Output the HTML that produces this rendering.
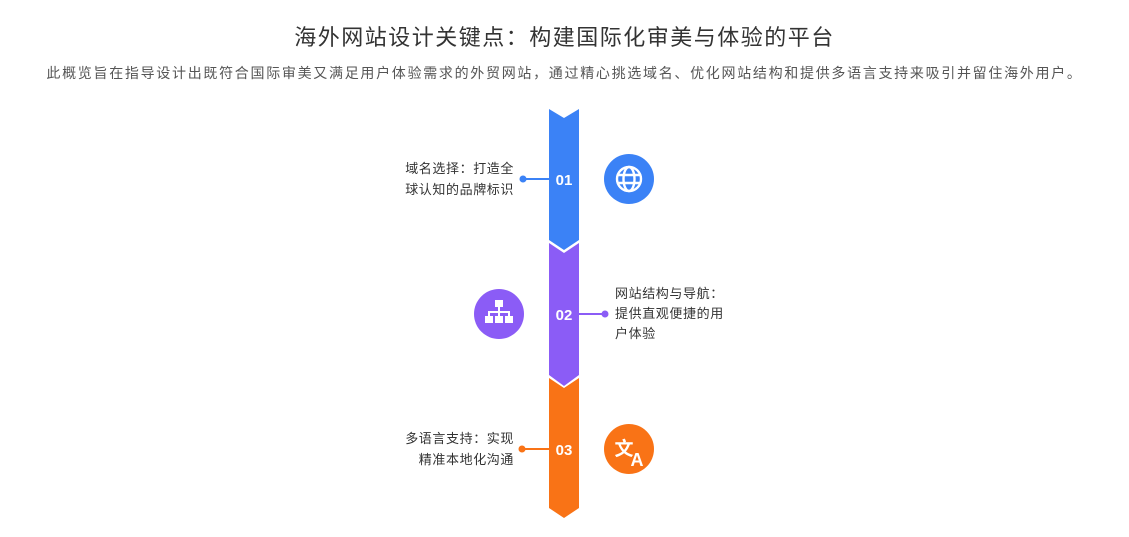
<!DOCTYPE html>
<html><head><meta charset="utf-8"><style>
body{margin:0;width:1129px;height:537px;background:#fff;position:relative;overflow:hidden;font-family:"Liberation Sans","Noto Sans CJK SC",sans-serif;color:#333}
.t{position:absolute;left:0;width:1129px;text-align:center;white-space:nowrap}
.l{position:absolute;font-size:13px;line-height:21px;letter-spacing:0.6px;color:#333}
</style></head><body>
<div class="t" style="top:20px;font-size:22px;letter-spacing:1.5px;color:#333">海外网站设计关键点：构建国际化审美与体验的平台</div>
<div class="t" style="top:63px;font-size:14px;letter-spacing:1.7px;color:#555">此概览旨在指导设计出既符合国际审美又满足用户体验需求的外贸网站，通过精心挑选域名、优化网站结构和提供多语言支持来吸引并留住海外用户。</div>
<svg width="1129" height="537" style="position:absolute;left:0;top:0">
<polygon points="549,109 564,118 579,109 579,240 564,250 549,240" fill="#3b82f6"/>
<polygon points="549,243 564,253 579,243 579,375 564,386 549,375" fill="#8b5cf6"/>
<polygon points="549,378 564,388 579,378 579,508 564,518 549,508" fill="#f97316"/>
<g font-family="Liberation Sans" font-weight="bold" font-size="15" fill="#fff" text-anchor="middle">
<text x="564" y="185">01</text><text x="564" y="320">02</text><text x="564" y="455">03</text></g>
<line x1="523" y1="179" x2="549" y2="179" stroke="#3b82f6" stroke-width="2"/><circle cx="523" cy="179" r="3.5" fill="#3b82f6"/>
<line x1="579" y1="314" x2="605" y2="314" stroke="#8b5cf6" stroke-width="2"/><circle cx="605" cy="314" r="3.5" fill="#8b5cf6"/>
<line x1="522" y1="449" x2="549" y2="449" stroke="#f97316" stroke-width="2"/><circle cx="522" cy="449" r="3.5" fill="#f97316"/>
<circle cx="629" cy="179" r="25" fill="#3b82f6"/>
<g fill="none" stroke="#fff" stroke-width="2.4"><circle cx="629" cy="179" r="12"/><ellipse cx="629" cy="179" rx="5.5" ry="12"/><line x1="617" y1="175" x2="641" y2="175"/><line x1="617" y1="183" x2="641" y2="183"/></g>
<circle cx="499" cy="314" r="25" fill="#8b5cf6"/>
<g fill="#fff"><rect x="495" y="300" width="8" height="7"/><rect x="498" y="307" width="2" height="5"/><rect x="488" y="311" width="22" height="2"/><rect x="488" y="311" width="2" height="5"/><rect x="508" y="311" width="2" height="5"/><rect x="498" y="311" width="2" height="5"/><rect x="485" y="316" width="8" height="7"/><rect x="495" y="316" width="8" height="7"/><rect x="505" y="316" width="8" height="7"/></g>
<circle cx="629" cy="449" r="25" fill="#f97316"/>
<text x="624" y="455" font-family="Noto Sans CJK SC" font-weight="bold" font-size="19" fill="#fff" text-anchor="middle">文</text>
<text x="637" y="466" font-family="Liberation Sans" font-weight="bold" font-size="18" fill="#fff" text-anchor="middle">A</text>
</svg>
<div class="l" style="right:615px;top:158px;text-align:right">域名选择：打造全<br>球认知的品牌标识</div>
<div class="l" style="left:615px;top:284px;line-height:20px">网站结构与导航：<br>提供直观便捷的用<br>户体验</div>
<div class="l" style="right:615px;top:428px;text-align:right">多语言支持：实现<br>精准本地化沟通</div>
</body></html>
